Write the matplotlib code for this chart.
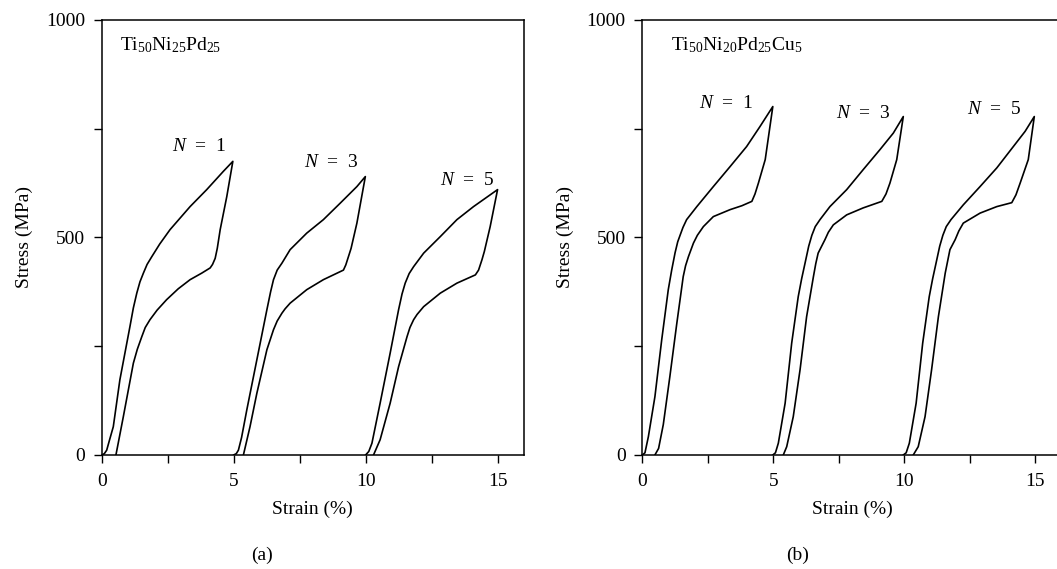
import numpy as np
import matplotlib
matplotlib.use("Agg")
import matplotlib.pyplot as plt
from matplotlib.ticker import MultipleLocator

plt.rcParams['font.family'] = ['Liberation Serif', 'DejaVu Serif']
plt.rcParams['mathtext.fontset'] = 'custom'
plt.rcParams['mathtext.rm'] = 'Liberation Serif'
plt.rcParams['mathtext.it'] = 'Liberation Serif:italic'
plt.rcParams['font.size'] = 14

# (a) Ti50Ni25Pd25 : loading then unloading, strain (%) / stress (MPa)
a1_strain = [0, 0.10, 0.19, 0.30, 0.44, 0.69, 1.07, 1.20, 1.33, 1.45, 1.58, 1.72, 1.90, 2.20, 2.59,
             3.35, 3.98, 4.61, 4.97,
             4.74, 4.49, 4.38, 4.30, 4.20, 4.11, 3.79, 3.35, 2.90, 2.46, 2.10, 1.83, 1.65, 1.52,
             1.35, 1.20, 0.82, 0.54]
a1_stress = [0, 3, 11, 35, 65, 173, 295, 338, 372, 398, 418, 438, 456, 485, 518,
             571, 610, 652, 675,
             594, 518, 475, 452, 438, 430, 418, 403, 382, 357, 333, 311, 293, 272,
             243, 211, 88, 0]
a3_strain = [5.0, 5.10, 5.18, 5.30, 5.50, 5.88, 6.26, 6.40, 6.51, 6.65, 6.83, 7.14, 7.77, 8.40,
             9.04, 9.67, 9.99,
             9.67, 9.45, 9.35, 9.25, 9.16, 8.40, 7.77, 7.14, 6.95, 6.83, 6.65, 6.51, 6.26, 5.88,
             5.62, 5.37]
a3_stress = [0, 3, 11, 40, 104, 219, 334, 375, 403, 425, 441, 472, 510, 541,
             579, 617, 640,
             533, 475, 456, 437, 425, 403, 380, 349, 336, 326, 308, 288, 242, 142,
             65, 0]
a5_strain = [10.0, 10.12, 10.24, 10.55, 10.93, 11.25, 11.38, 11.50, 11.65, 11.82, 12.20, 12.83,
             13.46, 14.09, 14.72, 15.0,
             14.72, 14.50, 14.41, 14.28, 14.16, 13.46, 12.83, 12.20, 11.95, 11.82, 11.68, 11.57,
             11.25, 10.93, 10.55, 10.30]
a5_stress = [0, 8, 27, 119, 234, 334, 370, 395, 417, 433, 464, 502,
             541, 571, 598, 610,
             525, 468, 449, 425, 414, 395, 372, 341, 323, 311, 293, 272,
             203, 119, 35, 0]

# (b) Ti50Ni20Pd25Cu5
b1_strain = [0, 0.10, 0.23, 0.48, 0.74, 0.99, 1.12, 1.25, 1.35, 1.44, 1.55, 1.69, 2.08, 2.71,
             3.35, 3.98, 4.49, 4.98,
             4.69, 4.43, 4.30, 4.18, 3.80, 3.35, 2.71, 2.33, 2.10, 1.95, 1.76, 1.65, 1.56, 1.31,
             1.05, 0.80, 0.62, 0.48]
b1_stress = [0, 5, 42, 134, 265, 380, 425, 465, 490, 505, 523, 541, 571, 617,
             663, 709, 755, 801,
             679, 625, 600, 583, 573, 564, 548, 525, 505, 487, 456, 435, 410, 300,
             180, 70, 15, 0]
b3_strain = [4.98, 5.08, 5.19, 5.45, 5.70, 5.95, 6.08, 6.21, 6.35, 6.47, 6.60, 6.78, 7.16, 7.80,
             8.43, 9.07, 9.58, 9.96,
             9.71, 9.45, 9.30, 9.14, 8.43, 7.80, 7.29, 7.10, 6.97, 6.71, 6.62, 6.53, 6.27,
             6.02, 5.76, 5.51, 5.38]
b3_stress = [0, 5, 27, 119, 257, 364, 405, 441, 480, 505, 525, 541, 571, 610,
             656, 702, 740, 778,
             679, 625, 600, 583, 568, 552, 529, 512, 495, 464, 440, 410, 318,
             196, 88, 19, 0]
b5_strain = [9.96, 10.07, 10.19, 10.45, 10.70, 10.95, 11.08, 11.21, 11.35, 11.47, 11.60, 11.78,
             12.25, 12.89, 13.53, 14.16, 14.61, 14.96,
             14.73, 14.42, 14.26, 14.10, 13.53, 12.89, 12.25, 12.08, 11.94, 11.74, 11.65, 11.56,
             11.30, 11.04, 10.79, 10.53, 10.34]
b5_stress = [0, 5, 27, 119, 257, 364, 405, 441, 480, 505, 525, 541,
             575, 617, 660, 709, 744, 778,
             679, 625, 598, 580, 571, 556, 533, 515, 495, 472, 445, 418,
             318, 196, 88, 19, 0]

cycle_labels = ['$N$  =  1', '$N$  =  3', '$N$  =  5']
a_label_pos = [(3.7, 709), (8.7, 673), (13.85, 631)]
b_label_pos = [(3.2, 809), (8.45, 786), (13.45, 794)]

fig = plt.figure(figsize=(10.57, 5.69), dpi=100)
ax1 = fig.add_axes([0.0962, 0.2004, 0.3995, 0.7645])
ax2 = fig.add_axes([0.6077, 0.2004, 0.3966, 0.7645])

panels = [
    (ax1, [(a1_strain, a1_stress), (a3_strain, a3_stress), (a5_strain, a5_stress)],
     a_label_pos, r'Ti$_{50}$Ni$_{25}$Pd$_{25}$', 0.7),
    (ax2, [(b1_strain, b1_stress), (b3_strain, b3_stress), (b5_strain, b5_stress)],
     b_label_pos, r'Ti$_{50}$Ni$_{20}$Pd$_{25}$Cu$_{5}$', 1.1),
]

for ax, loops, lpos, alloy, ax_x in panels:
    for (sx, sy) in loops:
        ax.plot(sx, sy, color='black', lw=1.2)
    for lab, (lx, ly) in zip(cycle_labels, lpos):
        ax.text(lx, ly, lab, ha='center', va='center')
    ax.text(ax_x, 943, alloy, ha='left', va='center')
    ax.set_xlim(0, 16)
    ax.set_ylim(0, 1000)
    ax.xaxis.set_major_locator(MultipleLocator(5))
    ax.xaxis.set_minor_locator(MultipleLocator(2.5))
    ax.yaxis.set_major_locator(MultipleLocator(500))
    ax.yaxis.set_minor_locator(MultipleLocator(250))
    ax.tick_params(which='both', direction='out', length=6, width=1, top=False, right=False)
    ax.tick_params(axis='x', pad=7)
    ax.tick_params(axis='y', pad=6)
    for sp in ax.spines.values():
        sp.set_linewidth(1.1)
    ax.set_xlabel('Strain (%)', labelpad=8)
    ax.set_ylabel('Stress (MPa)', labelpad=9)

fig.text(0.248, 0.024, '(a)', ha='center', va='center')
fig.text(0.755, 0.024, '(b)', ha='center', va='center')

fig.savefig('out.png', dpi=100)
